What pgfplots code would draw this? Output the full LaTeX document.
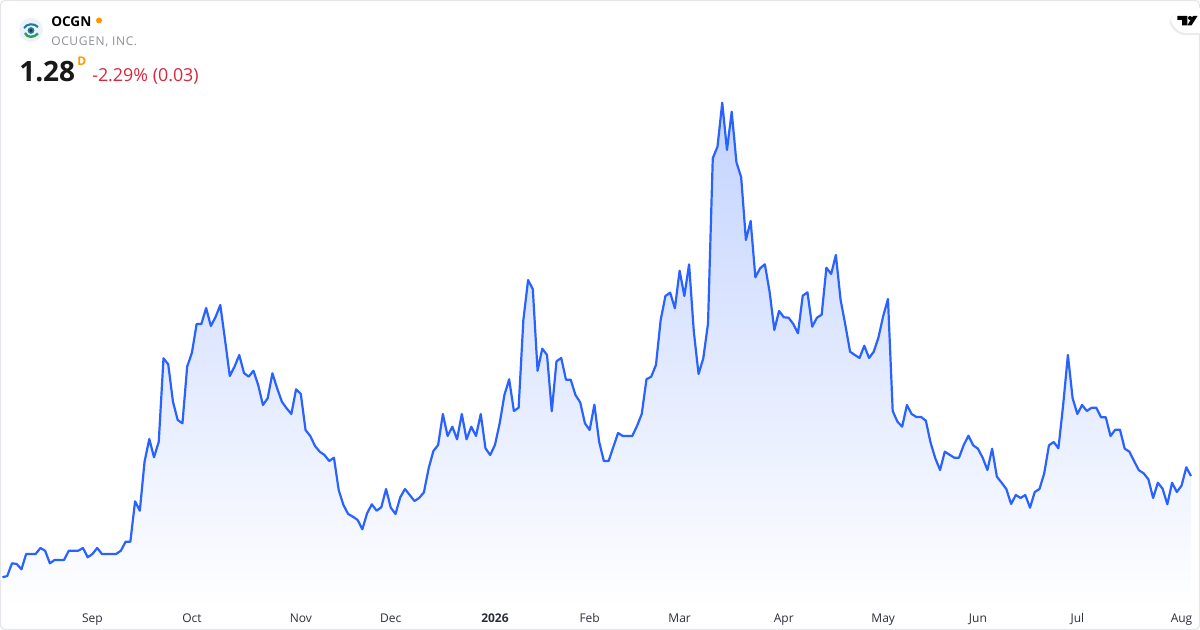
\documentclass[border=0pt]{standalone}
\usepackage{pgfplots}
\usepackage{pgfplotstable}
\pgfplotsset{compat=1.18}
\usepackage{fontspec}
\setmainfont{Open Sans}
\newfontfamily\spaced[LetterSpace=5.5]{Open Sans}
\definecolor{tvblue}{HTML}{2962FF}
\definecolor{tvtop}{HTML}{C3D3FF}
\definecolor{frame}{HTML}{E4E6EB}
\definecolor{tvtext}{HTML}{2A2E39}
\definecolor{subgray}{HTML}{8C8F96}
\definecolor{tvorange}{HTML}{FF9800}
\definecolor{tvred}{HTML}{D7263D}
\definecolor{logobg}{HTML}{EDF2FA}
\definecolor{logoteal}{HTML}{1F7FA0}
\definecolor{logogreen}{HTML}{2E9E5B}
\pgfplotstableread[header=false,row sep=\\]{
0.7735\\0.78\\0.8435\\0.84\\0.8135\\0.89\\0.89\\0.89\\0.92\\0.9065\\
0.8435\\0.86\\0.86\\0.86\\0.9065\\0.9065\\0.9065\\0.92\\0.8735\\0.89\\
0.92\\0.89\\0.89\\0.89\\0.89\\0.9065\\0.9515\\0.9515\\1.1535\\1.1065\\
1.3515\\1.465\\1.3735\\1.4515\\1.8685\\1.8385\\1.6515\\1.56\\1.5435\\1.8265\\
1.8965\\2.04\\2.04\\2.12\\2.03\\2.075\\2.135\\1.96\\1.78\\1.8265\\
1.885\\1.795\\1.7765\\1.8065\\1.735\\1.635\\1.6685\\1.7935\\1.7185\\1.6515\\
1.6185\\1.59\\1.7135\\1.69\\1.51\\1.48\\1.43\\1.4015\\1.385\\1.355\\
1.3715\\1.21\\1.135\\1.09\\1.0765\\1.06\\1.0135\\1.0935\\1.1385\\1.1065\\
1.1235\\1.215\\1.1215\\1.09\\1.1735\\1.215\\1.185\\1.155\\1.17\\1.1985\\
1.3185\\1.405\\1.435\\1.59\\1.48\\1.5265\\1.4635\\1.59\\1.4635\\1.5265\\
1.48\\1.59\\1.4185\\1.385\\1.435\\1.5435\\1.685\\1.7635\\1.605\\1.6215\\
2.06\\2.26\\2.2135\\1.8065\\1.9165\\1.885\\1.6035\\1.8535\\1.87\\1.7615\\
1.7615\\1.685\\1.6485\\1.5435\\1.51\\1.6365\\1.4515\\1.355\\1.355\\1.425\\
1.495\\1.48\\1.48\\1.48\\1.53\\1.59\\1.7635\\1.7765\\1.835\\2.06\\
2.18\\2.1965\\2.1185\\2.3065\\2.18\\2.3385\\2.0015\\1.79\\1.8685\\2.0435\\
2.8685\\2.9265\\3.1465\\2.91\\3.1015\\2.8485\\2.7735\\2.46\\2.555\\2.2735\\
2.3185\\2.3385\\2.2015\\2.01\\2.105\\2.0735\\2.0715\\2.04\\1.9935\\2.1815\\
2.1985\\2.0265\\2.0715\\2.0865\\2.3215\\2.29\\2.385\\2.16\\2.035\\1.9015\\
1.885\\1.87\\1.9315\\1.87\\1.9015\\1.9735\\2.08\\2.165\\1.605\\1.5515\\
1.5265\\1.635\\1.59\\1.575\\1.575\\1.5565\\1.4465\\1.3685\\1.31\\1.4015\\
1.3865\\1.3715\\1.3715\\1.435\\1.4815\\1.4335\\1.4165\\1.3715\\1.31\\1.4165\\
1.2765\\1.2465\\1.215\\1.14\\1.185\\1.17\\1.185\\1.1215\\1.2\\1.215\\
1.2935\\1.4335\\1.45\\1.4185\\1.635\\1.885\\1.6685\\1.59\\1.635\\1.605\\
1.6215\\1.6215\\1.5735\\1.5735\\1.48\\1.5115\\1.5115\\1.4165\\1.4015\\1.3535\\
1.3085\\1.2935\\1.2635\\1.17\\1.2465\\1.2165\\1.1385\\1.2465\\1.2\\1.2315\\
1.3235\\1.28\\
}\pricetable
\begin{document}
\begin{tikzpicture}
\useasboundingbox (0pt,-15pt) rectangle (900pt,457.5pt);
\begin{axis}[
  at={(0pt,0pt)},anchor=south west,
  scale only axis,width=900pt,height=457.5pt,
  xmin=-0.528,xmax=252.9,ymin=0.61,ymax=3.66,
  axis line style={draw=none},
  major tick length=0pt,
  ytick=\empty,
  xtick={19,40,63,82,104,124,143,165,186,206,227,249},
  xticklabels={Sep,Oct,Nov,Dec,\textbf{2026},Feb,Mar,Apr,May,Jun,Jul,Aug},
  xticklabel style={font=\fontsize{9}{10}\selectfont,text=tvtext,anchor=base,yshift=-9.5pt},
]
\addplot[draw=none,shade,top color=tvtop,bottom color=white]
  table[x expr=\coordindex,y index=0]{\pricetable} \closedcycle;
\addplot[tvblue,line width=1.65pt,line join=round,mark=none]
  table[x expr=\coordindex,y index=0]{\pricetable};
\end{axis}
\begin{scope}[x=0.75pt,y=-0.75pt,shift={(0pt,457.5pt)}]
  \draw[frame,line width=0.9pt,rounded corners=3pt] (0.6,0.6) rectangle (1199.4,629.4);
  % logo
  \fill[logobg] (31,30) circle (12);
  \draw[logoteal,line width=1.6pt] (24,28) .. controls (27,23.5) and (34,23) .. (38,27);
  \fill[logoteal] (31,30.5) circle (3.4);
  \fill[black!80] (31,30.5) circle (1.6);
  \draw[logogreen,line width=1.8pt] (25,33) .. controls (27,38) and (34,38) .. (38,33.5);
  % header
  \node[anchor=base west,inner sep=0pt,text=black] at (51,26.5) {\fontsize{10.2}{11}\selectfont\bfseries OCGN};
  \fill[tvorange] (99,20.5) circle (3);
  \node[anchor=base west,inner sep=0pt,text=subgray] at (51,46) {\fontsize{9}{11}\spaced OCUGEN, INC.};
  \node[anchor=base west,inner sep=0pt,text=black!90] at (19,82) {\fontsize{21}{24}\selectfont\bfseries 1.28};
  \node[anchor=base west,inner sep=0pt,text=tvorange] at (77,66) {\fontsize{9}{11}\selectfont\bfseries D};
  \node[anchor=base west,inner sep=0pt,text=tvred] at (92,82) {\fontsize{13.4}{15}\selectfont -2.29\% (0.03)};
  % TradingView tab
  \fill[black!8,rounded corners=12pt] (1169.5,9.5) rectangle (1215,35);
  \fill[white,rounded corners=12pt] (1171,8) rectangle (1215,33);
  \fill[black] (1177.3,16) -- (1187.3,16) -- (1187.3,25.3) -- (1182,25.3) -- (1182,20) -- (1177.3,20) -- cycle;
  \fill[black] (1190,18) circle (2);
  \fill[black] (1193,16) -- (1197.5,16) -- (1191.6,25.3) -- (1187.3,25.3) -- cycle;
\end{scope}
\end{tikzpicture}
\end{document}
